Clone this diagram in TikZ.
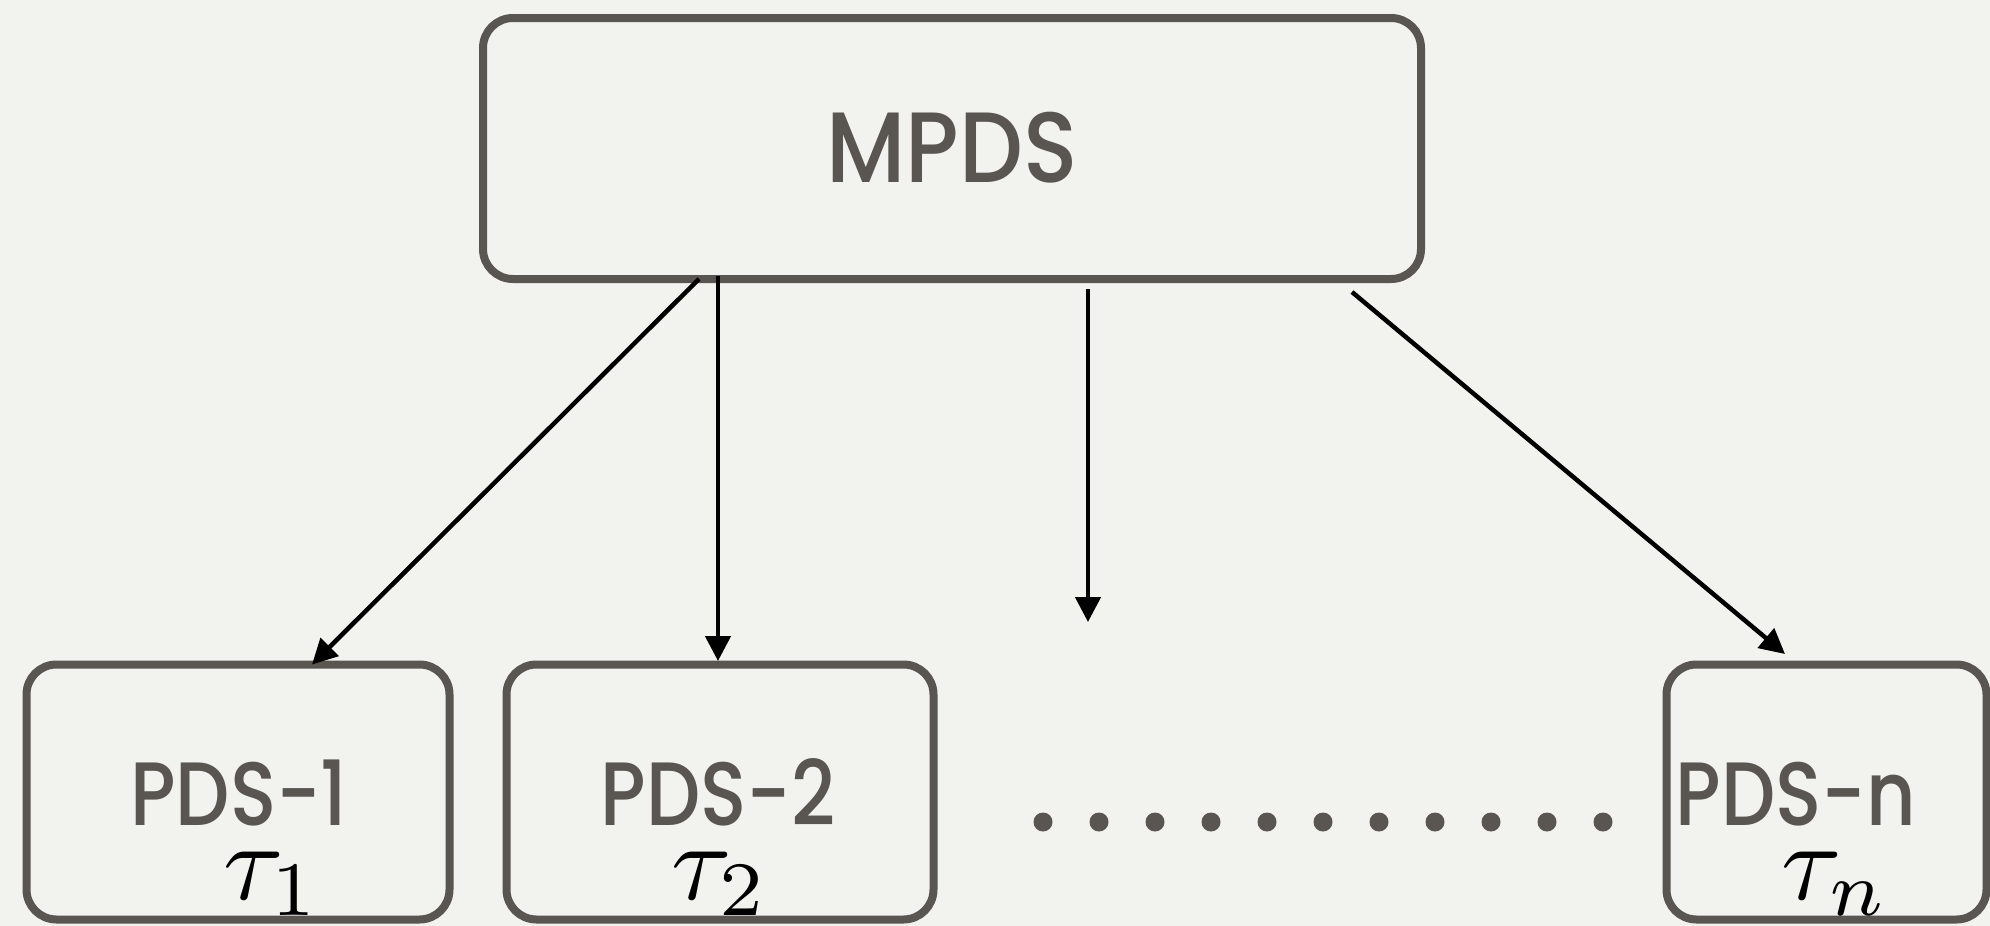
\documentclass[tikz,border=0pt]{standalone}
\usepackage{graphicx}
\usepackage{fontspec}
\newfontfamily\futura[FakeStretch=0.9]{Poppins Medium}
\newfontfamily\futurab[FakeStretch=0.85]{Poppins Medium}
\usetikzlibrary{arrows.meta}
\definecolor{paper}{HTML}{F2F2EE}
\definecolor{ink}{HTML}{595651}
\newcommand{\bigmath}[1]{\scalebox{11}{$#1$}}
\tikzset{
  box/.style={draw=ink, line width=8pt, rounded corners=30pt, inner sep=0pt, outer sep=0pt},
  lbl/.style={text=ink, font=\futurab\fontsize{90}{100}\selectfont, anchor=base, inner sep=0pt},
  biglbl/.style={lbl, font=\futura\fontsize{100}{110}\selectfont},
  mathlbl/.style={anchor=base, inner sep=0pt},
  arr/.style={line width=4.5pt, -{Triangle[length=25pt,width=25pt]}},
  dotnode/.style={circle, fill=ink, minimum size=19pt, inner sep=0pt}
}
\begin{document}
\begin{tikzpicture}[x=1pt,y=-1pt]
\fill[paper] (0,0) rectangle (1990,926);
\useasboundingbox (0,0) rectangle (1990,926);
% boxes
\node[box, minimum width=938pt, minimum height=261pt] (mpds) at (952,148.5) {};
\node[box, minimum width=423pt, minimum height=255pt] (pds1) at (238,792) {};
\node[box, minimum width=427pt, minimum height=255pt] (pds2) at (720,792) {};
\node[box, minimum width=320pt, minimum height=255pt] (pdsn) at (1826.5,792) {};
% labels
\node[biglbl] (mpdst) at (952,182) {MPDS};
\node[lbl] (pds1t) at (239,825) {PDS-1};
\node[lbl] (pds2t) at (718,825) {PDS-2};
\node[lbl] (pdsnt) at (1796,825) {PDS-n};
\node[mathlbl] (tau1) at (272,899) {\bigmath{\tau_1}};
\node[mathlbl] (tau2) at (720,899) {\bigmath{\tau_2}};
\node[mathlbl] (taun) at (1835,899) {\bigmath{\tau_n}};
% dots
\foreach \i in {0,...,10} \node[dotnode] (d\i) at (1043+56*\i,822) {};
% arrows
\coordinate (a3end) at (1088,622);
\draw[arr] ([xshift=216pt]mpds.south west) -- ([xshift=285.5pt]pds1.north west);
\draw[arr] ([xshift=235pt,yshift=3pt]mpds.south west) -- ([xshift=211.5pt,yshift=3.5pt]pds2.north west);
\draw[arr] ([xshift=605pt,yshift=-10pt]mpds.south west) -- (a3end);
\draw[arr] ([xshift=869pt,yshift=-13pt]mpds.south west) -- ([xshift=118.5pt,yshift=10.5pt]pdsn.north west);
\end{tikzpicture}
\end{document}
